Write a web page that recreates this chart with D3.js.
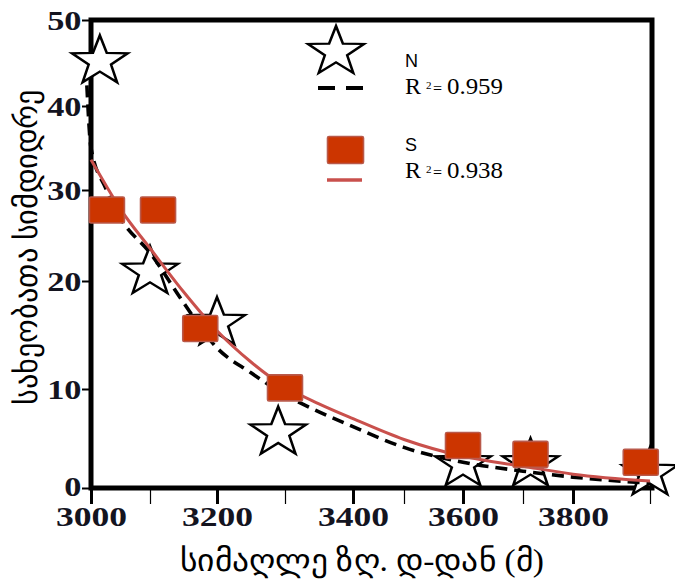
<!DOCTYPE html>
<html>
<head>
<meta charset="utf-8">
<script src="https://cdn.jsdelivr.net/npm/d3@7"></script>
<style>
  html, body { margin: 0; padding: 0; background: #fff; }
  svg { display: block; }
</style>
</head>
<body>
<svg id="chart" width="675" height="581"></svg>
<script>
// Species richness against elevation for the north (N) and south (S) slopes
const northElevation = [3015, 3100, 3200, 3290, 3600, 3715, 3900];
const northRichness  = [45.2, 21.0, 16.1, 5.6, 2.4, 2.4, 1.5];
const southElevation = [3027, 3112, 3175, 3300, 3600, 3715, 3888];
const southRichness  = [27.8, 27.8, 15.6, 10.1, 4.3, 3.4, 2.6];

// Fitted trend curves, sampled along elevation
const northTrendElevation = [2993, 3000, 3025, 3050, 3100, 3150, 3200, 3250, 3300, 3350, 3400, 3500, 3600, 3700, 3800, 3900];
const northTrendRichness  = [42.4, 35.0, 30.2, 26.9, 23.1, 18.0, 13.8, 11.5, 9.4, 7.7, 6.2, 4.1, 2.6, 1.7, 1.1, 0.5];
const southTrendElevation = [3000, 3025, 3050, 3100, 3150, 3200, 3250, 3300, 3350, 3400, 3500, 3600, 3700, 3800, 3900];
const southTrendRichness  = [33.6, 30.6, 27.9, 23.6, 19.0, 15.4, 12.5, 10.2, 8.5, 7.0, 4.9, 3.2, 2.2, 1.4, 0.7];

const seriesNames = ["N", "S"];
const rSquared = ["0.959", "0.938"];
const xMajorTicks = [3000, 3200, 3400, 3600, 3800];
const xMinorTicks = [3100, 3300, 3500, 3700, 3900];
const yTicks = [0, 10, 20, 30, 40, 50];
const xTitle = "სიმაღლე ზღ. დ-დან (მ)";
const yTitle = "სახეობათა სიმდიდრე";

const SERIF = '"Liberation Serif", "Times New Roman", serif';
const SANS = '"Liberation Sans", Arial, sans-serif';

const svg = d3.select("#chart");
svg.append("rect").attr("width", 675).attr("height", 581).attr("fill", "#fff");

// Piecewise-linear scales: the plotted axes are not evenly spaced
const x = d3.scaleLinear()
  .domain([3000, 3100, 3200, 3300, 3400, 3500, 3600, 3700, 3800, 3900])
  .range([91, 150, 217, 285, 353, 404, 463, 523, 573, 650]);
const y = d3.scaleLinear()
  .domain([0, 10, 20, 30, 40, 50])
  .range([488, 389, 281, 190, 106, 20]);

const plotLeft = 91, plotRight = 652, plotTop = 20, plotBottom = 488;
const textInk = "#14141f";
const stretch = 1.13;
const tickStretch = 1.27;

// Y axis
const yAxis = svg.append("g")
  .attr("transform", `translate(${plotLeft},0)`)
  .call(d3.axisLeft(y).tickValues(yTicks).tickSize(9).tickSizeOuter(0).tickFormat(d3.format("d")));
yAxis.select(".domain").remove();
yAxis.selectAll(".tick line").attr("stroke", "#000").attr("stroke-width", 2);
yAxis.selectAll(".tick text")
  .attr("x", -7.5).attr("dy", d => d === 0 ? "0.26em" : "0.34em")
  .attr("transform", `scale(${tickStretch},1)`)
  .attr("fill", textInk)
  .style("font-family", SERIF).style("font-weight", "bold").style("font-size", "27px");

// X axis, minor ticks then major ticks with labels
const xMinor = svg.append("g")
  .attr("transform", `translate(0,${plotBottom})`)
  .call(d3.axisBottom(x).tickValues(xMinorTicks).tickSize(16).tickSizeOuter(0).tickFormat(""));
xMinor.select(".domain").remove();
xMinor.selectAll(".tick line").attr("stroke", "#000").attr("stroke-width", 1.2);

const xAxis = svg.append("g")
  .attr("transform", `translate(0,${plotBottom})`)
  .call(d3.axisBottom(x).tickValues(xMajorTicks).tickSize(16).tickSizeOuter(0).tickFormat(d3.format("d")));
xAxis.select(".domain").remove();
xAxis.selectAll(".tick line").attr("stroke", "#000").attr("stroke-width", 3);
xAxis.selectAll(".tick text")
  .attr("y", 38).attr("dy", 0)
  .attr("transform", `scale(${tickStretch},1)`)
  .attr("fill", textInk)
  .style("font-family", SERIF).style("font-weight", "bold").style("font-size", "28px");

// Plot frame
svg.append("rect")
  .attr("x", plotLeft).attr("y", plotTop)
  .attr("width", plotRight - plotLeft).attr("height", plotBottom - plotTop)
  .attr("fill", "none").attr("stroke", "#000").attr("stroke-width", 5);

// Star marker
function starPath(R, ratio) {
  const pts = [];
  for (let i = 0; i < 10; i++) {
    const a = -Math.PI / 2 + i * Math.PI / 5;
    const rr = i % 2 === 0 ? R : R * ratio;
    pts.push([rr * Math.cos(a), rr * Math.sin(a)]);
  }
  return "M" + pts.map(p => p[0].toFixed(2) + "," + p[1].toFixed(2)).join("L") + "Z";
}
const star = starPath(26, 0.4);
const sqW = 35, sqH = 26;
const sqFill = "#cc3500", sqStroke = "#b9594a";
const trendRed = "#c9504c";

const plot = svg.append("g");

// North: stars
plot.selectAll("path.north")
  .data(d3.zip(northElevation, northRichness))
  .join("path")
  .attr("class", "north")
  .attr("d", star)
  .attr("transform", d => `translate(${x(d[0])},${y(d[1])}) scale(${stretch},1)`)
  .attr("fill", "#fff").attr("stroke", "#000").attr("stroke-width", 2.3)
  .attr("stroke-linejoin", "miter");

// Trend lines
const line = d3.line().x(d => x(d[0])).y(d => y(d[1])).curve(d3.curveMonotoneX);
plot.append("path")
  .datum(d3.zip(northTrendElevation, northTrendRichness))
  .attr("d", line)
  .attr("fill", "none").attr("stroke", "#000").attr("stroke-width", 3.6)
  .attr("stroke-dasharray", "12,7");
plot.append("path")
  .datum(d3.zip(southTrendElevation, southTrendRichness))
  .attr("d", line)
  .attr("fill", "none").attr("stroke", trendRed).attr("stroke-width", 3);

// South: squares
plot.selectAll("rect.south")
  .data(d3.zip(southElevation, southRichness))
  .join("rect")
  .attr("class", "south")
  .attr("x", d => x(d[0]) - sqW / 2).attr("y", d => y(d[1]) - sqH / 2)
  .attr("width", sqW).attr("height", sqH).attr("rx", 1.5)
  .attr("fill", sqFill).attr("stroke", sqStroke).attr("stroke-width", 1.6);

// Legend
const legend = svg.append("g");
legend.append("path")
  .attr("d", star)
  .attr("transform", `translate(336,52) scale(${stretch},1)`)
  .attr("fill", "#fff").attr("stroke", "#000").attr("stroke-width", 2.3);
legend.append("line")
  .attr("x1", 318).attr("x2", 363).attr("y1", 88).attr("y2", 88)
  .attr("stroke", "#000").attr("stroke-width", 4).attr("stroke-dasharray", "17,11");
legend.append("rect")
  .attr("x", 345 - sqW / 2).attr("y", 150 - 27 / 2)
  .attr("width", 36).attr("height", 27).attr("rx", 1.5)
  .attr("fill", sqFill).attr("stroke", sqStroke).attr("stroke-width", 1.6);
legend.append("line")
  .attr("x1", 327).attr("x2", 362).attr("y1", 180).attr("y2", 180)
  .attr("stroke", trendRed).attr("stroke-width", 3.5);

const legendRows = [{ name: seriesNames[0], r2: rSquared[0], y: 67 }, { name: seriesNames[1], r2: rSquared[1], y: 151 }];
legendRows.forEach(row => {
  legend.append("text")
    .attr("x", 405).attr("y", row.y).attr("fill", "#000")
    .style("font-family", SANS).style("font-size", "18px")
    .text(row.name);
  const t = legend.append("text")
    .attr("y", row.y + 27).attr("fill", "#000")
    .style("font-family", SERIF);
  t.append("tspan").attr("x", 405).style("font-size", "24px").text("R");
  t.append("tspan").attr("x", 426).attr("dy", -5).style("font-size", "11px").text("2");
  t.append("tspan").attr("x", 433).attr("dy", 5).style("font-size", "16px").text("=");
  t.append("tspan").attr("x", 447).style("font-size", "24px")
    .attr("textLength", 56).attr("lengthAdjust", "spacingAndGlyphs").text(row.r2);
});

// Axis titles
svg.append("text")
  .attr("x", 362).attr("y", 571)
  .attr("text-anchor", "middle").attr("fill", "#000")
  .style("font-family", SERIF).style("font-size", "31px")
  .attr("textLength", 364).attr("lengthAdjust", "spacingAndGlyphs")
  .text(xTitle);
svg.append("text")
  .attr("transform", "translate(37,247) rotate(-90)")
  .attr("text-anchor", "middle").attr("fill", "#000")
  .style("font-family", SERIF).style("font-size", "31px")
  .attr("textLength", 316).attr("lengthAdjust", "spacingAndGlyphs")
  .text(yTitle);
</script>
</body>
</html>
